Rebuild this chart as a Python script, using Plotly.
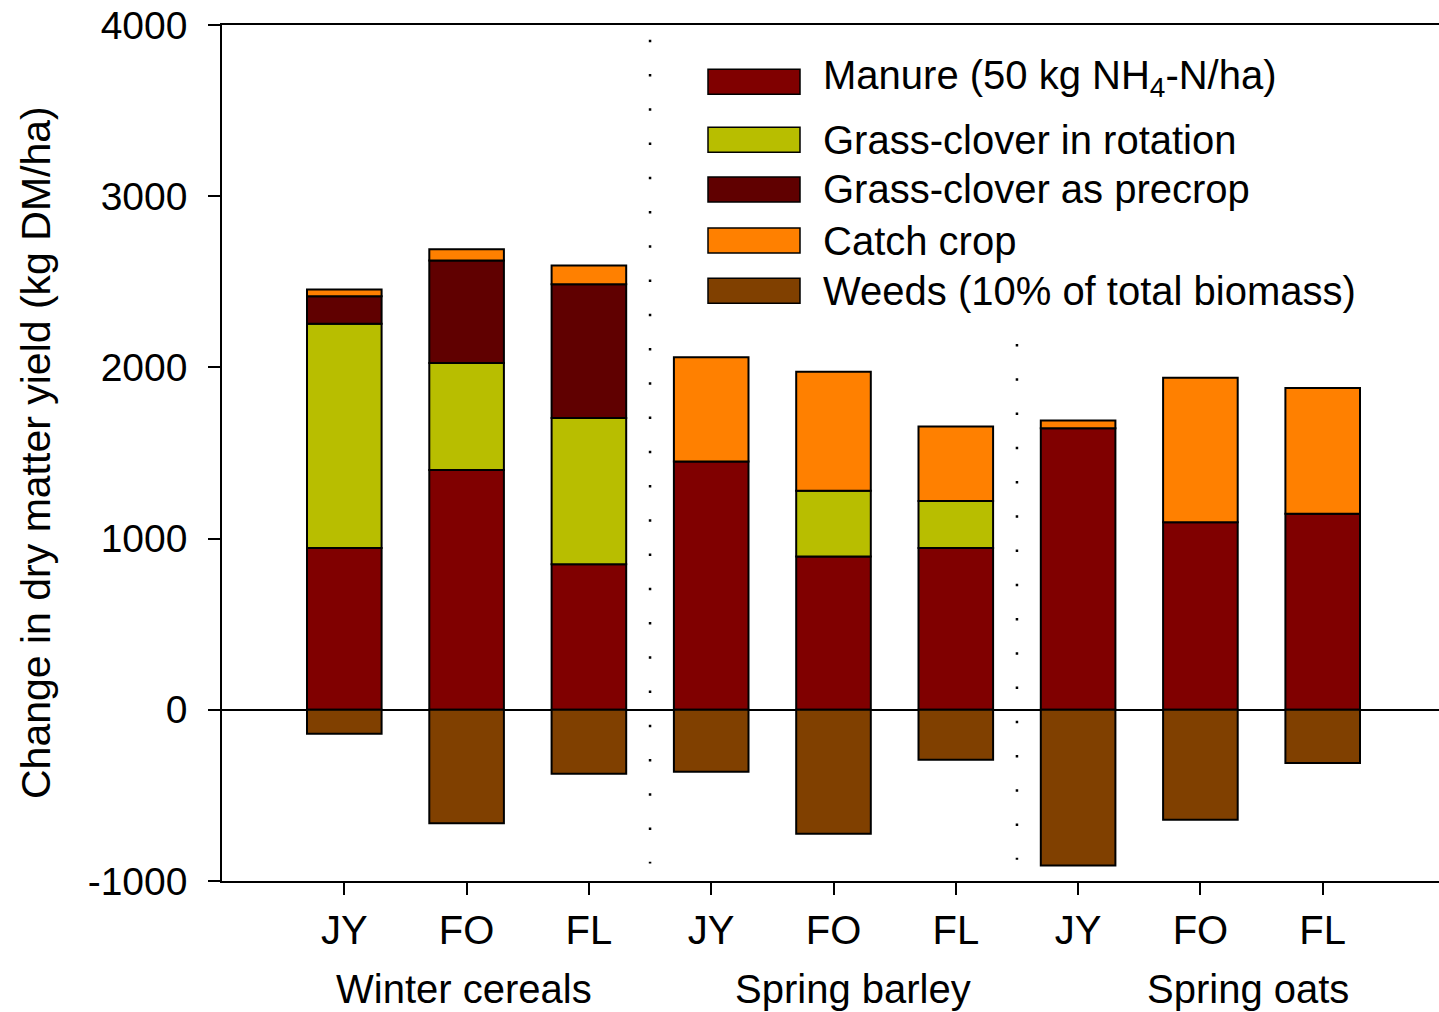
import plotly.graph_objects as go

# Crop / site categories
sites = ["JY", "FO", "FL", "JY", "FO", "FL", "JY", "FO", "FL"]
groups = ["Winter cereals", "Spring barley", "Spring oats"]

# Change in dry matter yield (kg DM/ha) per source
manure = [945, 1400, 850, 1450, 895, 945, 1645, 1095, 1145]
gc_rotation = [1310, 625, 855, None, 385, 275, None, None, None]
gc_precrop = [160, 600, 780, None, None, None, None, None, None]
catch_crop = [40, 65, 110, 610, 695, 435, 45, 845, 735]
weeds = [-140, -662, -374, -362, -724, -292, -909, -642, -311]

series_names = [
    "Manure (50 kg NH<sub>4</sub>-N/ha)",
    "Grass-clover in rotation",
    "Grass-clover as precrop",
    "Catch crop",
    "Weeds (10% of total biomass)",
]
series_values = [manure, gc_rotation, gc_precrop, catch_crop, weeds]
colors = ["#800000", "#B8BE00", "#600000", "#FF8000", "#804000"]

FONT = "Liberation Sans, Arial, sans-serif"
W, H = 1439, 1012
ML, MR, MT, MB = 222, 0, 25, 131
PW, PH = W - ML - MR, H - MT - MB

x = list(range(1, len(sites) + 1))

fig = go.Figure()
for name, vals, col in zip(series_names, series_values, colors):
    fig.add_trace(go.Bar(
        x=x, y=vals, name=name, width=0.61,
        marker=dict(color=col, line=dict(color="black", width=2)),
        showlegend=False,
    ))


def px_to_paper_y(py):
    return (H - MB - py) / PH


def px_to_paper_x(px):
    return (px - ML) / PW


shapes = []
annotations = []

# Dotted dividers between the crop groups
dividers = [(3.5, 3914, -898), (6.5, 2137, -876)]
for xd, ytop, ybot in dividers:
    shapes.append(dict(
        type="line", xref="x", yref="y", x0=xd, x1=xd, y0=ytop, y1=ybot,
        line=dict(color="black", width=2.5, dash="2.5px,31.75px"),
        layer="above",
    ))

# Legend drawn as swatches + labels
legend_rows = [81.7, 139.7, 189.5, 240.5, 290.8]
text_rows = [77.5, 139.7, 189.5, 240.5, 290.8]
for name, col, ry, ty in zip(series_names, colors, legend_rows, text_rows):
    shapes.append(dict(
        type="rect", xref="paper", yref="paper",
        x0=px_to_paper_x(708), x1=px_to_paper_x(800),
        y0=px_to_paper_y(ry + 12.5), y1=px_to_paper_y(ry - 12.5),
        fillcolor=col, line=dict(color="black", width=1.5),
    ))
    annotations.append(dict(
        xref="paper", yref="paper", x=px_to_paper_x(821), y=px_to_paper_y(ty),
        xanchor="left", yanchor="middle", text=name, showarrow=False,
        font=dict(family=FONT, size=40, color="black"),
    ))

# Group labels below the site labels
for label, gx in zip(groups, [1.975, 5.16, 8.39]):
    annotations.append(dict(
        xref="x", yref="paper", x=gx, y=px_to_paper_y(989),
        xanchor="center", yanchor="middle", text=label, showarrow=False,
        font=dict(family=FONT, size=40, color="black"),
    ))

# Y axis title
annotations.append(dict(
    xref="paper", yref="paper", x=px_to_paper_x(36), y=px_to_paper_y(453),
    xanchor="center", yanchor="middle", textangle=-90,
    text="Change in dry matter yield (kg DM/ha)", showarrow=False,
    font=dict(family=FONT, size=41, color="black"),
))

fig.update_layout(
    width=W, height=H,
    margin=dict(l=ML, r=MR, t=MT, b=MB, pad=0),
    barmode="relative",
    plot_bgcolor="white", paper_bgcolor="white",
    font=dict(family=FONT, size=40, color="black"),
    shapes=shapes, annotations=annotations,
    xaxis=dict(
        range=[0, PW / 122.3], tickmode="array", tickvals=x, ticktext=sites,
        showline=True, linecolor="black", linewidth=1.5, mirror=True,
        ticks="outside", ticklen=12, tickwidth=1.5, tickcolor="black",
        showgrid=False, zeroline=False,
        tickfont=dict(family=FONT, size=40, color="black"),
        ticklabelstandoff=1,
    ),
    yaxis=dict(
        range=[-1000, 4000], tickmode="array",
        tickvals=[-1000, 0, 1000, 2000, 3000, 4000],
        ticktext=["-1000", "0", "1000", "2000", "3000", "4000"],
        showline=True, linecolor="black", linewidth=1.5,
        ticks="outside", ticklen=12, tickwidth=1.5, tickcolor="black",
        showgrid=False, zeroline=True, zerolinecolor="black", zerolinewidth=2,
        tickfont=dict(family=FONT, size=39, color="black"),
        ticklabelstandoff=13,
    ),
)

fig.write_html("out.html")
